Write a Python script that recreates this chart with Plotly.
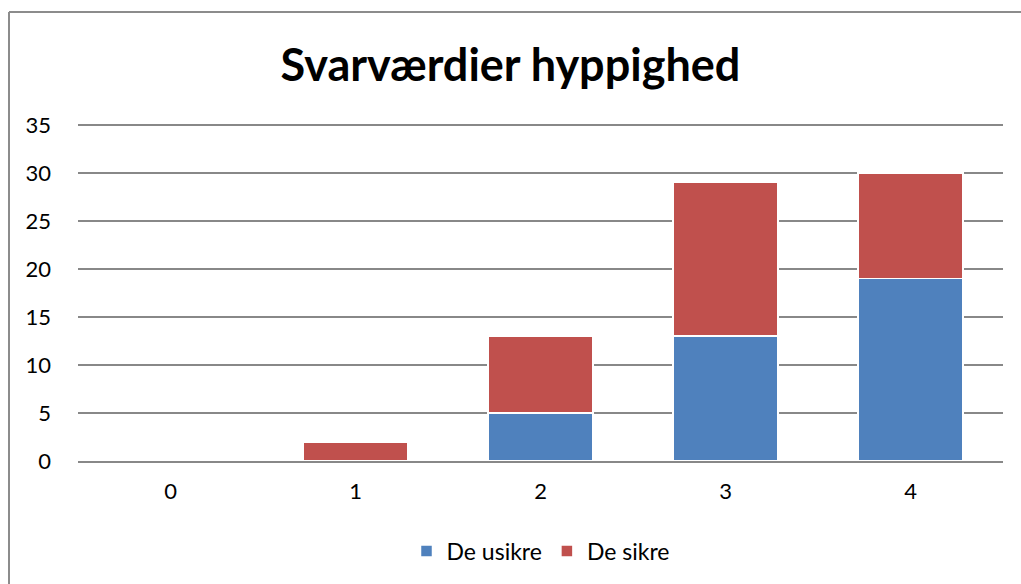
import plotly.graph_objects as go

categories = ["0", "1", "2", "3", "4"]
usikre = [0, 0, 5, 13, 19]
sikre = [0, 2, 8, 16, 11]
y_ticks = [0, 5, 10, 15, 20, 25, 30, 35]

FONT = "Lato, Calibri, sans-serif"

fig = go.Figure()
fig.add_trace(go.Bar(x=categories, y=usikre, name="De usikre",
                     marker=dict(color="#4F81BD", line=dict(color="white", width=1.5))))
fig.add_trace(go.Bar(x=categories, y=sikre, name="De sikre",
                     marker=dict(color="#C0504D", line=dict(color="white", width=1.5))))

L, R, T, B = 78, 18, 122, 123
W, H = 1021, 584
pw, ph = W - L - R, H - T - B

def px2paper_x(px):
    return (px - L) / pw

def px2paper_y(py):
    return 1 - (py - T) / ph

fig.update_layout(
    barmode="stack",
    width=W, height=H,
    margin=dict(l=L, r=R, t=T, b=B),
    bargap=0.43,
    paper_bgcolor="white", plot_bgcolor="white",
    font=dict(family=FONT, size=22, color="black"),
    title=dict(text="<b>Svarværdier hyppighed</b>", x=0.5, xanchor="center",
               y=1 - 65 / H, yanchor="middle", font=dict(size=45, family=FONT)),
    legend=dict(orientation="h", x=0.5, xanchor="center", y=px2paper_y(551), yanchor="middle",
                font=dict(size=23), itemwidth=30, traceorder="normal"),
    xaxis=dict(showgrid=False, showline=True, linecolor="#888888", linewidth=2,
               ticks="", tickfont=dict(size=22), ticklabelstandoff=10),
    yaxis=dict(range=[0, 35.3], tickvals=y_ticks, showgrid=True, gridcolor="#888888",
               gridwidth=1.5, zeroline=False, ticks="", showline=False,
               tickfont=dict(size=22), ticklabelstandoff=26),
    shapes=[
        dict(type="line", xref="paper", yref="paper",
             x0=px2paper_x(9), x1=px2paper_x(1030), y0=px2paper_y(12), y1=px2paper_y(12),
             line=dict(color="#8c8c8c", width=2)),
        dict(type="line", xref="paper", yref="paper",
             x0=px2paper_x(9), x1=px2paper_x(9), y0=px2paper_y(12), y1=px2paper_y(600),
             line=dict(color="#8c8c8c", width=2)),
    ],
)

fig.write_html("out.html", config={"displayModeBar": False},
               post_script="document.body.style.margin='0';")
